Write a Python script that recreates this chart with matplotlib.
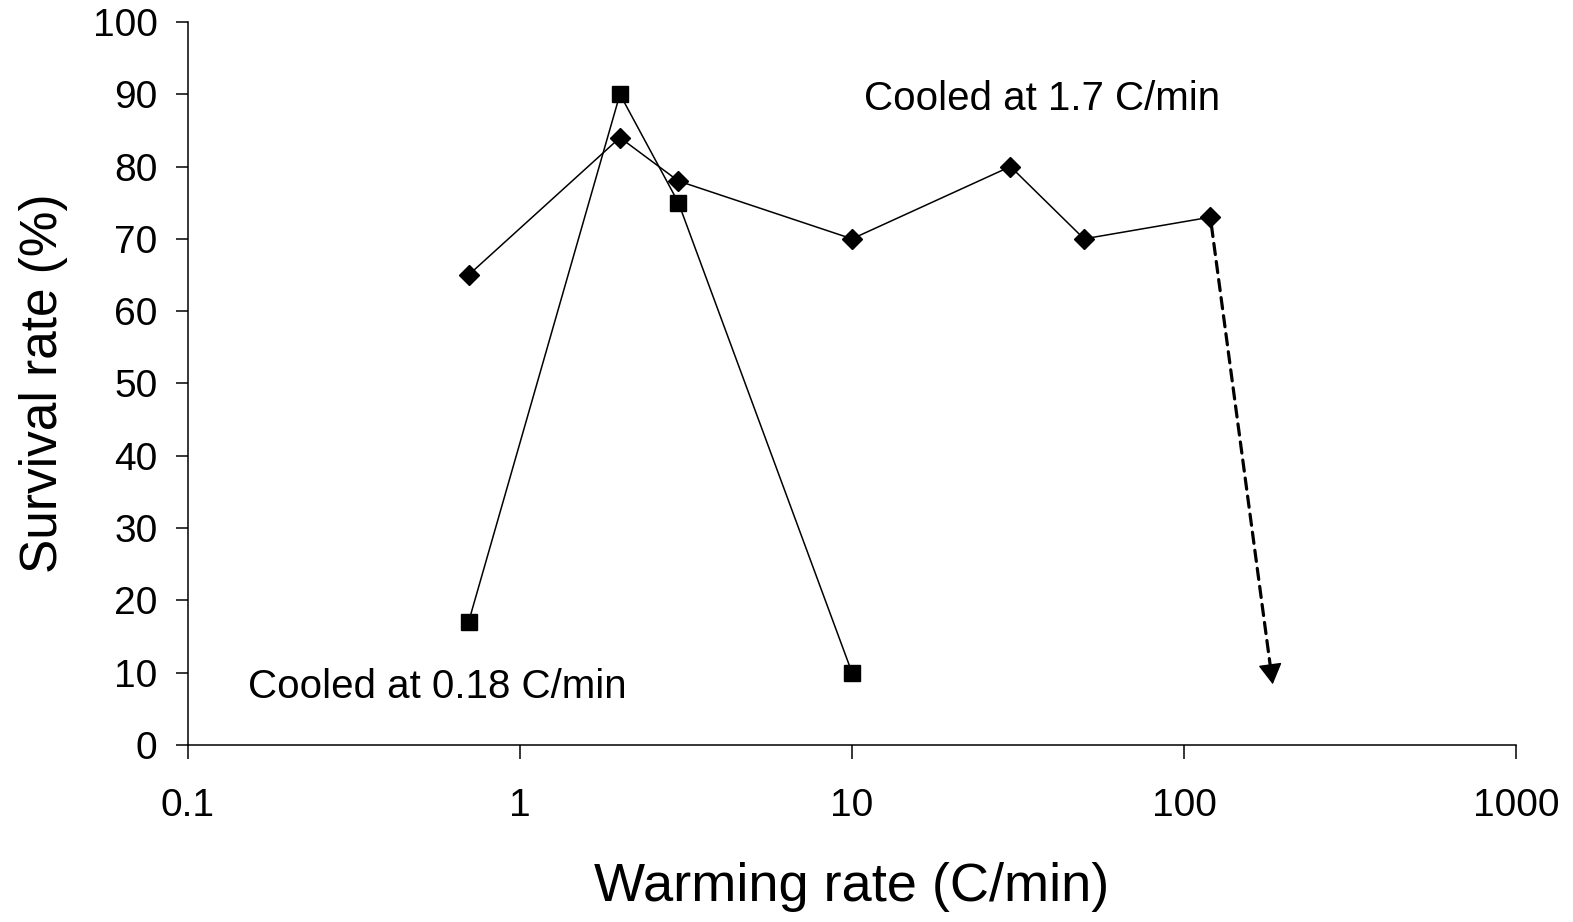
import matplotlib
matplotlib.use("Agg")
import matplotlib.pyplot as plt
import numpy as np

plt.rcParams['font.family'] = ['Liberation Sans', 'DejaVu Sans']

# Data
fast_x = [0.7, 2, 3, 10, 30, 50, 120]
fast_y = [65, 84, 78, 70, 80, 70, 73]
slow_x = [0.7, 2, 3, 10]
slow_y = [17, 90, 75, 10]
arrow_start = (120, 73)
arrow_end = (185, 8.4)
xticks = [0.1, 1, 10, 100, 1000]
xtick_labels = ["0.1", "1", "10", "100", "1000"]
yticks = list(range(0, 101, 10))

fig = plt.figure(figsize=(15.73, 9.22), dpi=100)
ax = fig.add_axes([0.1195, 0.192, 0.8443, 0.7842])

ax.plot(fast_x, fast_y, color='black', lw=1.1, marker='D', ms=10, mfc='black', mec='black')
ax.plot(slow_x, slow_y, color='black', lw=1.1, marker='s', ms=11.5, mfc='black', mec='black')

ax.set_xscale('log')
ax.set_xlim(0.1, 1000)
ax.set_ylim(0, 100)

# dashed shaft + solid head
p0 = ax.transData.transform(arrow_start)
p1 = ax.transData.transform(arrow_end)
d = (p1 - p0) / np.hypot(*(p1 - p0))
head_px = 19
ax.annotate('', xy=arrow_end, xytext=arrow_start,
            arrowprops=dict(arrowstyle='-', linestyle=(0, (3.5, 2.2)),
                            lw=2.3, color='black', shrinkA=6, shrinkB=head_px * 0.72 - 1))
off = -d * head_px * 72 / 100
ax.annotate('', xy=arrow_end, xytext=(off[0], off[1]), textcoords='offset points',
            arrowprops=dict(arrowstyle='-|>,head_length=1.3,head_width=0.75',
                            lw=1, color='black', shrinkA=0, shrinkB=0))

ax.set_xticks(xticks)
ax.set_xticklabels(xtick_labels)
ax.set_yticks(yticks)
ax.xaxis.set_minor_locator(matplotlib.ticker.NullLocator())

for s in ['top', 'right']:
    ax.spines[s].set_visible(False)
for s in ['left', 'bottom']:
    ax.spines[s].set_linewidth(1.1)

ax.tick_params(axis='x', direction='out', length=10, width=1.1, labelsize=28, pad=21)
ax.tick_params(axis='y', direction='out', length=9, width=1.1, labelsize=28, pad=13)

ax.set_xlabel('Warming rate (C/min)', fontsize=39, labelpad=27)
ax.set_ylabel('Survival rate (%)', fontsize=37, labelpad=18)

ax.text(10.9, 87.8, 'Cooled at 1.7 C/min', fontsize=29, ha='left', va='baseline')
ax.text(0.152, 6.5, 'Cooled at 0.18 C/min', fontsize=29, ha='left', va='baseline')

fig.savefig('out.png', dpi=100)
